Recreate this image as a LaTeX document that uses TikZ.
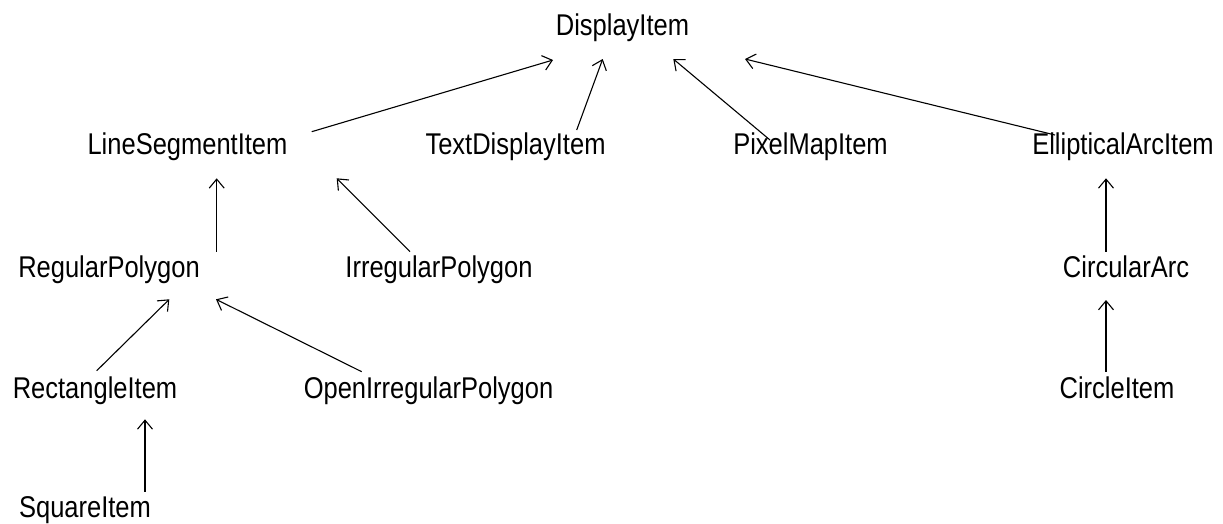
\documentclass[tikz,border=0pt]{standalone}
\usepackage{fontspec}
\setmainfont{Liberation Sans}[FakeStretch=0.85]
\usetikzlibrary{arrows.meta,calc}
\begin{document}
\begin{tikzpicture}[x=1pt,y=-1pt,
  cls/.style={anchor=base,inner sep=0pt,font=\fontsize{30}{35}\selectfont},
  inherit/.style={line width=1.1pt,-{Straight Barb[length=9pt,width=15pt,line width=1.1pt]}}]
  \useasboundingbox[fill=white] (0,0) rectangle (1223,523);

  % class names, placed on their baselines
  \node[cls] (DI)  at (622.5,35)  {DisplayItem};
  \node[cls] (LSI) at (187.5,154) {LineSegmentItem};
  \node[cls] (TDI) at (515.5,154) {TextDisplayItem};
  \node[cls] (PMI) at (810.5,154) {PixelMapItem};
  \node[cls] (EAI) at (1123,154)  {EllipticalArcItem};
  \node[cls] (RP)  at (109,277)   {RegularPolygon};
  \node[cls] (IP)  at (439,277)   {IrregularPolygon};
  \node[cls] (CA)  at (1126,277)  {CircularArc};
  \node[cls] (RI)  at (95,398)    {RectangleItem};
  \node[cls] (OIP) at (428.5,398) {OpenIrregularPolygon};
  \node[cls] (CI)  at (1117,398)  {CircleItem};
  \node[cls] (SI)  at (85,517)    {SquareItem};

  % subclass -> superclass
  \draw[inherit] ($(LSI.base)+(124.2,-22.3)$) -- ($(DI.base)+(-69.5,25)$);
  \draw[inherit] ($(TDI.base)+(61.2,-24)$)    -- ($(DI.base)+(-19.8,24)$);
  \draw[inherit] ($(PMI.base)+(-40.5,-14)$)   -- ($(DI.base)+(50.8,24)$);
  \draw[inherit] ($(EAI.base)+(-68,-19)$)     -- ($(DI.base)+(122.5,24)$);
  \draw[inherit] ($(RP.base)+(107.7,-25.3)$)  -- ($(LSI.base)+(29.2,24.3)$);
  \draw[inherit] ($(IP.base)+(-29,-25.3)$)    -- ($(LSI.base)+(149.2,24.3)$);
  \draw[inherit] ($(CA.base)+(-20,-25.3)$)    -- ($(EAI.base)+(-17,24.3)$);
  \draw[inherit] ($(RI.base)+(1.7,-27.3)$)    -- ($(RP.base)+(60.3,22.3)$);
  \draw[inherit] ($(OIP.base)+(-66.8,-26.3)$) -- ($(RP.base)+(107,22.3)$);
  \draw[inherit] ($(CI.base)+(-11,-26.3)$)    -- ($(CA.base)+(-20,23)$);
  \draw[inherit] ($(SI.base)+(60,-25.3)$)     -- ($(RI.base)+(50,21.3)$);
\end{tikzpicture}
\end{document}
